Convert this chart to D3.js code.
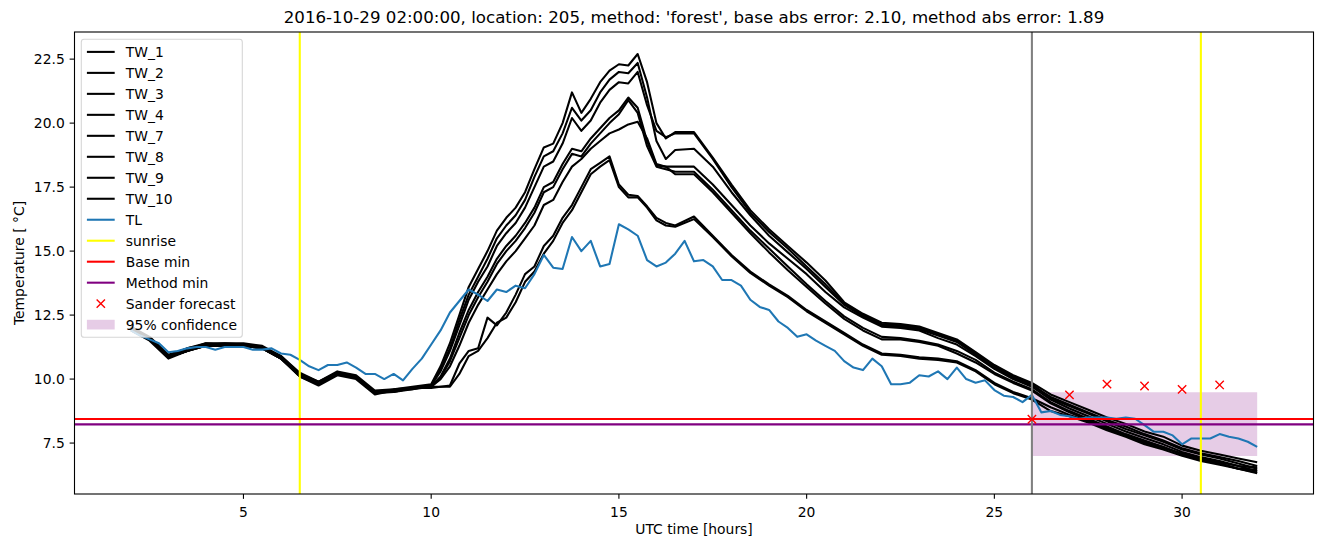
<!DOCTYPE html>
<html><head><meta charset="utf-8">
<script src="https://cdn.jsdelivr.net/npm/d3@7"></script>
<style>body{margin:0;background:#fff} svg{display:block} text{font-family:"DejaVu Sans",sans-serif;fill:#000}</style>
</head><body><svg id="c" width="1324" height="547"></svg>
<script>
const titleText = "2016-10-29 02:00:00, location: 205, method: 'forest', base abs error: 2.10, method abs error: 1.89";
const xLabel = "UTC time [hours]";
const yLabel = "Temperature [ °C]";
const xTicks = [5, 10, 15, 20, 25, 30];
const yTicks = [7.5, 10.0, 12.5, 15.0, 17.5, 20.0, 22.5];
const xDomain = [0.5, 33.5];
const yDomain = [5.51, 23.56];

const twNames = ["TW_1", "TW_2", "TW_3", "TW_4", "TW_7", "TW_8", "TW_9", "TW_10"];
// sampling hours: half-hourly, quarter-hourly during the warm-up (10-16.5 h)
const twHours = [].concat(d3.range(2, 9.51, 0.5), d3.range(10, 16.51, 0.25), d3.range(17, 32.01, 0.5));
const tw1 = [12.05, 11.65, 10.95, 11.2, 11.4, 11.4, 11.4, 11.3, 10.9, 10.25, 9.9, 10.3, 10.15, 9.55, 9.6, 9.7,
  9.8, 10.5, 11.4, 12.5, 13.6, 14.3, 15.0, 15.8, 16.3, 16.7, 17.3, 18.2, 19.05, 19.2, 20.0, 21.2, 20.4, 20.95, 21.6, 22.05, 22.3, 22.25, 22.7, 21.6, 20.0, 19.4, 19.65,
  19.65, 18.65, 17.6, 16.6, 15.85, 15.2, 14.55, 13.85, 13.0, 12.55, 12.2,
  12.15, 12.05, 11.8, 11.55, 11.05, 10.55, 10.15, 9.85,
  9.4, 9.1, 8.8, 8.5, 8.25, 7.95, 7.75, 7.4, 7.2, 7.05, 6.9, 6.75];
const tw2 = [12.0, 11.6, 10.9, 11.15, 11.4, 11.35, 11.35, 11.25, 10.85, 10.2, 9.85, 10.25, 10.1, 9.5, 9.55, 9.65,
  9.75, 10.4, 11.2, 12.3, 13.3, 14.0, 14.7, 15.5, 16.0, 16.4, 17.0, 17.9, 18.7, 18.9, 19.6, 20.6, 20.1, 20.5, 21.2, 21.7, 22.0, 21.95, 22.35, 21.0, 19.3, 18.6, 18.95,
  19.0, 18.3, 17.3, 16.4, 15.6, 14.95, 14.3, 13.6, 12.9, 12.45, 12.1,
  12.05, 11.95, 11.7, 11.45, 10.95, 10.45, 10.05, 9.75,
  9.3, 9.0, 8.7, 8.4, 8.15, 7.85, 7.6, 7.3, 7.1, 6.95, 6.8, 6.6];
const tw3 = [11.95, 11.6, 10.85, 11.1, 11.35, 11.35, 11.35, 11.2, 10.8, 10.15, 9.8, 10.2, 10.05, 9.45, 9.55, 9.6,
  9.75, 10.3, 11.1, 12.1, 13.1, 13.8, 14.4, 15.2, 15.7, 16.1, 16.7, 17.5, 18.3, 18.5, 19.2, 20.2, 19.7, 20.1, 20.8, 21.3, 21.6, 21.55, 22.0, 20.7, 19.7, 19.45, 19.6,
  19.6, 18.6, 17.5, 16.5, 15.75, 15.1, 14.4, 13.7, 12.95, 12.5, 12.15,
  12.1, 12.0, 11.75, 11.5, 11.0, 10.5, 10.1, 9.8,
  9.25, 8.95, 8.65, 8.35, 8.05, 7.8, 7.55, 7.25, 7.05, 6.9, 6.7, 6.5];
const tw4 = [12.0, 11.55, 10.9, 11.15, 11.3, 11.3, 11.3, 11.25, 10.85, 10.2, 9.85, 10.2, 10.1, 9.5, 9.5, 9.65,
  9.7, 10.1, 10.8, 11.8, 12.7, 13.4, 14.0, 14.7, 15.2, 15.6, 16.1, 16.7, 17.5, 17.7, 18.4, 19.0, 18.9, 19.4, 19.8, 20.2, 20.5, 21.0, 20.6, 19.3, 18.35, 18.3, 18.3,
  18.3, 17.6, 16.8, 16.0, 15.3, 14.7, 14.1, 13.4, 12.8, 12.4, 12.05,
  12.0, 11.9, 11.6, 11.35, 10.9, 10.4, 10.0, 9.7,
  9.2, 8.85, 8.55, 8.25, 7.95, 7.7, 7.45, 7.15, 6.95, 6.8, 6.6, 6.4];
const tw7 = [11.95, 11.55, 10.85, 11.1, 11.3, 11.3, 11.3, 11.2, 10.8, 10.1, 9.8, 10.2, 10.05, 9.45, 9.5, 9.6,
  9.7, 10.05, 10.7, 11.6, 12.5, 13.2, 13.8, 14.5, 15.0, 15.4, 15.9, 16.5, 17.3, 17.5, 18.2, 18.8, 18.7, 19.2, 19.6, 20.0, 20.35, 20.9, 20.4, 19.1, 18.3, 18.2, 18.1,
  18.1, 17.4, 16.6, 15.8, 15.1, 14.4, 13.7, 13.05, 12.45, 12.0, 11.65,
  11.6, 11.5, 11.35, 11.1, 10.75, 10.25, 9.9, 9.6,
  9.1, 8.75, 8.45, 8.15, 7.85, 7.6, 7.35, 7.05, 6.9, 6.7, 6.5, 6.35];
const tw8 = [12.05, 11.6, 10.9, 11.2, 11.35, 11.4, 11.35, 11.25, 10.9, 10.2, 9.9, 10.25, 10.1, 9.5, 9.55, 9.65,
  9.7, 10.0, 10.5, 11.3, 12.2, 12.9, 13.5, 14.1, 14.6, 15.0, 15.5, 16.0, 16.8, 17.0, 17.7, 18.3, 18.6, 19.0, 19.3, 19.6, 19.75, 19.95, 20.05, 19.4, 18.4, 18.3, 18.0,
  18.0, 17.3, 16.5, 15.7, 14.95, 14.25, 13.6, 12.95, 12.35, 11.9, 11.55,
  11.55, 11.45, 11.3, 11.0, 10.65, 10.2, 9.85, 9.55,
  9.05, 8.7, 8.4, 8.1, 7.8, 7.55, 7.35, 7.05, 6.85, 6.7, 6.5, 6.32];
const tw9 = [11.9, 11.5, 10.8, 11.1, 11.3, 11.3, 11.3, 11.2, 10.8, 10.1, 9.75, 10.15, 10.0, 9.4, 9.55, 9.65,
  9.7, 9.7, 9.75, 10.6, 11.1, 11.2, 12.4, 12.1, 12.6, 13.3, 14.1, 14.4, 15.2, 15.6, 16.3, 16.8, 17.5, 18.2, 18.45, 18.7, 17.6, 17.2, 17.15, 16.75, 16.3, 16.1, 16.0,
  16.35, 15.6, 14.85, 14.2, 13.7, 13.25, 12.7, 12.25, 11.8, 11.35, 11.0,
  10.95, 10.85, 10.8, 10.7, 10.35, 9.85, 9.5, 9.25,
  8.9, 8.6, 8.35, 8.05, 7.8, 7.5, 7.3, 7.1, 6.9, 6.75, 6.6, 6.55];
const tw10 = [11.95, 11.55, 10.85, 11.1, 11.3, 11.3, 11.3, 11.2, 10.8, 10.15, 9.8, 10.2, 10.05, 9.45, 9.6, 9.65,
  9.65, 9.7, 9.7, 10.2, 10.9, 11.1, 11.6, 12.2, 12.4, 13.0, 13.8, 14.2, 14.9, 15.4, 16.1, 16.6, 17.3, 18.0, 18.3, 18.55, 17.5, 17.1, 17.1, 16.7, 16.2, 16.0, 15.95,
  16.25, 15.55, 14.8, 14.15, 13.65, 13.2, 12.65, 12.2, 11.75, 11.3, 10.95,
  10.9, 10.8, 10.75, 10.65, 10.3, 9.8, 9.45, 9.2,
  8.75, 8.55, 8.3, 8.0, 7.75, 7.45, 7.25, 7.0, 6.8, 6.65, 6.5, 6.45];
const twValues = [tw1, tw2, tw3, tw4, tw7, tw8, tw9, tw10];

const tlHours = d3.range(2, 32.001, 0.25);
const tlValues = [
  11.9, 11.7, 11.55, 11.4,  11.05, 11.1, 11.2, 11.25,  11.25, 11.15, 11.25, 11.25,
  11.25, 11.15, 11.15, 11.2,  11.0, 10.95, 10.75, 10.5,  10.35, 10.55, 10.55, 10.65,
  10.45, 10.2, 10.2, 10.0,  10.2, 9.95, 10.4, 10.8,  11.35, 11.9, 12.6, 13.05,
  13.5, 13.3, 13.05, 13.5,  13.4, 13.65, 13.55, 14.1,  14.85, 14.35, 14.3, 15.55,
  15.0, 15.4, 14.4, 14.5,  16.05, 15.85, 15.6, 14.65,  14.4, 14.55, 14.9, 15.4,
  14.6, 14.65, 14.4, 13.87,  13.87, 13.65, 13.1, 12.82,  12.7, 12.25, 12.0, 11.65,
  11.75, 11.5, 11.3, 11.1,  10.7, 10.45, 10.35, 10.8,  10.5, 9.8, 9.8, 9.86,
  10.15, 10.1, 10.3, 10.0,  10.45, 10.0, 9.86, 9.95,  9.57, 9.35, 9.3, 9.1,
  9.38, 8.7, 8.75, 8.6,  8.55, 8.45, 8.5, 8.5,  8.5, 8.45, 8.5, 8.45,
  8.2, 7.94, 7.94, 7.8,  7.45, 7.68, 7.68, 7.68,  7.85, 7.75, 7.68, 7.55,
  7.35];

const sunriseHours = [6.5, 30.5];
const forecastHour = 26;
const baseMin = 8.44;
const methodMin = 8.23;
const sanderHours = [26, 27, 28, 29, 30, 31];
const sanderValues = [8.43, 9.38, 9.8, 9.73, 9.6, 9.77];
const confHours = [26, 32];
const confLow = [6.99, 6.99];
const confHigh = [9.49, 9.49];

const legendLabels = ["TW_1", "TW_2", "TW_3", "TW_4", "TW_7", "TW_8", "TW_9", "TW_10", "TL", "sunrise", "Base min", "Method min", "Sander forecast", "95% confidence"];

// ---- layout ----
const L = 74.5, R = 1313.5, T = 32, B = 494;
const FS = 13.89, LW = 2.08;
const svg = d3.select("#c");
const x = d3.scaleLinear().domain(xDomain).range([L, R]);
const y = d3.scaleLinear().domain(yDomain).range([B, T]);

svg.append("defs").append("clipPath").attr("id", "clip")
  .append("rect").attr("x", L).attr("y", T).attr("width", R - L).attr("height", B - T);
const plot = svg.append("g").attr("clip-path", "url(#clip)");

const area = d3.area().x(d => x(d[0])).y0(d => y(d[1])).y1(d => y(d[2]));
plot.append("path").datum(confHours.map((h, i) => [h, confLow[i], confHigh[i]]))
  .attr("d", area).attr("fill", "purple").attr("fill-opacity", 0.2);

const line = d3.line().x(d => x(d[0])).y(d => y(d[1]));
twValues.forEach(vals => {
  plot.append("path").datum(twHours.map((h, i) => [h, vals[i]]))
    .attr("d", line).attr("fill", "none").attr("stroke", "black")
    .attr("stroke-width", LW).attr("stroke-linejoin", "round");
});
plot.append("path").datum(tlHours.map((h, i) => [h, tlValues[i]]))
  .attr("d", line).attr("fill", "none").attr("stroke", "#1f77b4")
  .attr("stroke-width", LW).attr("stroke-linejoin", "round");

sunriseHours.forEach(h => {
  plot.append("line").attr("x1", x(h)).attr("x2", x(h)).attr("y1", T).attr("y2", B)
    .attr("stroke", "yellow").attr("stroke-width", LW);
});
plot.append("line").attr("x1", L).attr("x2", R).attr("y1", y(baseMin)).attr("y2", y(baseMin))
  .attr("stroke", "red").attr("stroke-width", LW);
plot.append("line").attr("x1", L).attr("x2", R).attr("y1", y(methodMin)).attr("y2", y(methodMin))
  .attr("stroke", "purple").attr("stroke-width", LW);
plot.append("line").attr("x1", x(forecastHour)).attr("x2", x(forecastHour)).attr("y1", T).attr("y2", B)
  .attr("stroke", "gray").attr("stroke-width", LW);

function xMark(g, cx, cy) {
  const s = 4.17;
  g.append("path").attr("d", `M${cx - s},${cy - s}L${cx + s},${cy + s}M${cx - s},${cy + s}L${cx + s},${cy - s}`)
    .attr("stroke", "red").attr("stroke-width", 1.39).attr("fill", "none");
}
sanderHours.forEach((h, i) => xMark(plot, x(h), y(sanderValues[i])));

// ---- axes ----
const ax = svg.append("g");
ax.append("rect").attr("x", L).attr("y", T).attr("width", R - L).attr("height", B - T)
  .attr("fill", "none").attr("stroke", "black").attr("stroke-width", 1.1);
const tk = 4.86, pad = 4.86;
xTicks.forEach(v => {
  ax.append("line").attr("x1", x(v)).attr("x2", x(v)).attr("y1", B).attr("y2", B + tk)
    .attr("stroke", "black").attr("stroke-width", 1.1);
  ax.append("text").attr("x", x(v)).attr("y", B + tk + pad + 12.9).attr("text-anchor", "middle")
    .attr("font-size", FS).text(d3.format("d")(v));
});
yTicks.forEach(v => {
  ax.append("line").attr("x1", L - tk).attr("x2", L).attr("y1", y(v)).attr("y2", y(v))
    .attr("stroke", "black").attr("stroke-width", 1.1);
  ax.append("text").attr("x", L - tk - pad).attr("y", y(v) + 5).attr("text-anchor", "end")
    .attr("font-size", FS).text(d3.format(".1f")(v));
});
svg.append("text").attr("x", (L + R) / 2).attr("y", 534).attr("text-anchor", "middle")
  .attr("font-size", FS).text(xLabel);
svg.append("text").attr("transform", `translate(24,${(T + B) / 2}) rotate(-90)`)
  .attr("text-anchor", "middle").attr("font-size", FS).text(yLabel);
svg.append("text").attr("x", (L + R) / 2).attr("y", 23).attr("text-anchor", "middle")
  .attr("font-size", 16.67).text(titleText);

// ---- legend ----
const lg = svg.append("g");
const lx = 81.3, ly = 39.3, lw = 161, lh = 298;
lg.append("rect").attr("x", lx).attr("y", ly).attr("width", lw).attr("height", lh)
  .attr("rx", 2.8).attr("fill", "white").attr("fill-opacity", 0.8)
  .attr("stroke", "#cccccc").attr("stroke-opacity", 0.8).attr("stroke-width", 1.1);
const hx0 = 86.9, hx1 = 114.7, tx = 125.8;
const legendStyle = [
  ...twNames.map(() => ({type: "line", color: "black"})),
  {type: "line", color: "#1f77b4"}, {type: "line", color: "yellow"},
  {type: "line", color: "red"}, {type: "line", color: "purple"},
  {type: "x"}, {type: "patch"}
];
legendLabels.forEach((lab, i) => {
  const cy = 51.9 + i * 20.98;
  const st = legendStyle[i];
  if (st.type === "line") {
    lg.append("line").attr("x1", hx0).attr("x2", hx1).attr("y1", cy).attr("y2", cy)
      .attr("stroke", st.color).attr("stroke-width", LW);
  } else if (st.type === "x") {
    xMark(lg, (hx0 + hx1) / 2, cy);
  } else {
    lg.append("rect").attr("x", hx0).attr("y", cy - 4.86).attr("width", hx1 - hx0).attr("height", 9.72)
      .attr("fill", "purple").attr("fill-opacity", 0.2);
  }
  lg.append("text").attr("x", tx).attr("y", cy + 5).attr("font-size", FS).text(lab);
});
</script></body></html>
